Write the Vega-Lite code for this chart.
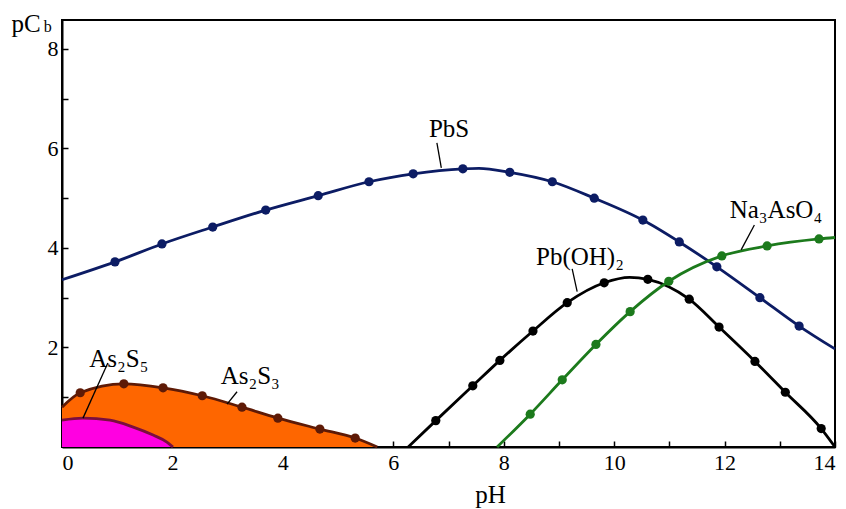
{
  "$schema": "https://vega.github.io/schema/vega-lite/v6.json",
  "width": 773,
  "height": 427,
  "autosize": {"type": "none"},
  "padding": {"left": 62, "top": 20, "right": 11, "bottom": 62},
  "background": "white",
  "config": {
    "font": "'Liberation Serif', 'Times New Roman', serif",
    "view": {"stroke": "black", "strokeWidth": 2},
    "axis": {
      "labelFont": "'Liberation Serif', 'Times New Roman', serif",
      "titleFont": "'Liberation Serif', 'Times New Roman', serif",
      "labelColor": "black",
      "titleColor": "black",
      "domainColor": "black",
      "domainWidth": 2,
      "tickColor": "black",
      "tickWidth": 1.5,
      "grid": false,
      "labelFontSize": 22,
      "titleFontSize": 25,
      "titleFontWeight": "normal"
    }
  },
  "datasets": {
    "curves": [
      {"series": "PbS", "pH": 0, "pC": 3.36},
      {"series": "PbS", "pH": 0.96, "pC": 3.72},
      {"series": "PbS", "pH": 1.81, "pC": 4.08},
      {"series": "PbS", "pH": 2.73, "pC": 4.42},
      {"series": "PbS", "pH": 3.69, "pC": 4.76},
      {"series": "PbS", "pH": 4.64, "pC": 5.05},
      {"series": "PbS", "pH": 5.56, "pC": 5.33},
      {"series": "PbS", "pH": 6.36, "pC": 5.49},
      {"series": "PbS", "pH": 7.26, "pC": 5.59},
      {"series": "PbS", "pH": 7.55, "pC": 5.6},
      {"series": "PbS", "pH": 8.11, "pC": 5.52},
      {"series": "PbS", "pH": 8.88, "pC": 5.33},
      {"series": "PbS", "pH": 9.64, "pC": 5.0},
      {"series": "PbS", "pH": 10.52, "pC": 4.56},
      {"series": "PbS", "pH": 11.18, "pC": 4.12},
      {"series": "PbS", "pH": 11.86, "pC": 3.62},
      {"series": "PbS", "pH": 12.64, "pC": 3.0},
      {"series": "PbS", "pH": 13.35, "pC": 2.43},
      {"series": "PbS", "pH": 14, "pC": 1.97},
      {"series": "Pb(OH)2", "pH": 6.27, "pC": 0},
      {"series": "Pb(OH)2", "pH": 6.77, "pC": 0.53},
      {"series": "Pb(OH)2", "pH": 7.44, "pC": 1.23},
      {"series": "Pb(OH)2", "pH": 7.93, "pC": 1.74},
      {"series": "Pb(OH)2", "pH": 8.53, "pC": 2.33},
      {"series": "Pb(OH)2", "pH": 9.15, "pC": 2.9},
      {"series": "Pb(OH)2", "pH": 9.82, "pC": 3.3},
      {"series": "Pb(OH)2", "pH": 10.28, "pC": 3.41},
      {"series": "Pb(OH)2", "pH": 10.61, "pC": 3.37},
      {"series": "Pb(OH)2", "pH": 11.36, "pC": 2.97},
      {"series": "Pb(OH)2", "pH": 11.9, "pC": 2.41},
      {"series": "Pb(OH)2", "pH": 12.55, "pC": 1.72},
      {"series": "Pb(OH)2", "pH": 13.1, "pC": 1.1},
      {"series": "Pb(OH)2", "pH": 13.75, "pC": 0.37},
      {"series": "Pb(OH)2", "pH": 14, "pC": 0},
      {"series": "Na3AsO4", "pH": 7.88, "pC": 0},
      {"series": "Na3AsO4", "pH": 8.48, "pC": 0.66},
      {"series": "Na3AsO4", "pH": 9.06, "pC": 1.35},
      {"series": "Na3AsO4", "pH": 9.67, "pC": 2.06},
      {"series": "Na3AsO4", "pH": 10.29, "pC": 2.72},
      {"series": "Na3AsO4", "pH": 10.99, "pC": 3.33},
      {"series": "Na3AsO4", "pH": 11.95, "pC": 3.84},
      {"series": "Na3AsO4", "pH": 12.77, "pC": 4.04},
      {"series": "Na3AsO4", "pH": 13.71, "pC": 4.18},
      {"series": "Na3AsO4", "pH": 14, "pC": 4.21},
      {"series": "As2S3", "pH": 0, "pC": 0.8},
      {"series": "As2S3", "pH": 0.33, "pC": 1.09},
      {"series": "As2S3", "pH": 1.12, "pC": 1.27},
      {"series": "As2S3", "pH": 1.83, "pC": 1.19},
      {"series": "As2S3", "pH": 2.54, "pC": 1.03},
      {"series": "As2S3", "pH": 3.26, "pC": 0.8},
      {"series": "As2S3", "pH": 3.91, "pC": 0.58},
      {"series": "As2S3", "pH": 4.67, "pC": 0.36},
      {"series": "As2S3", "pH": 5.31, "pC": 0.18},
      {"series": "As2S3", "pH": 5.71, "pC": 0},
      {"series": "As2S5", "pH": 0, "pC": 0.54},
      {"series": "As2S5", "pH": 0.38, "pC": 0.58},
      {"series": "As2S5", "pH": 0.87, "pC": 0.54},
      {"series": "As2S5", "pH": 1.29, "pC": 0.4},
      {"series": "As2S5", "pH": 1.65, "pC": 0.24},
      {"series": "As2S5", "pH": 1.9, "pC": 0.1},
      {"series": "As2S5", "pH": 2.01, "pC": 0}
    ],
    "dots": [
      {"series": "PbS", "pH": 0.96, "pC": 3.72},
      {"series": "PbS", "pH": 1.81, "pC": 4.08},
      {"series": "PbS", "pH": 2.73, "pC": 4.42},
      {"series": "PbS", "pH": 3.69, "pC": 4.76},
      {"series": "PbS", "pH": 4.64, "pC": 5.05},
      {"series": "PbS", "pH": 5.56, "pC": 5.33},
      {"series": "PbS", "pH": 6.36, "pC": 5.49},
      {"series": "PbS", "pH": 7.26, "pC": 5.59},
      {"series": "PbS", "pH": 8.11, "pC": 5.52},
      {"series": "PbS", "pH": 8.88, "pC": 5.33},
      {"series": "PbS", "pH": 9.64, "pC": 5.0},
      {"series": "PbS", "pH": 10.52, "pC": 4.56},
      {"series": "PbS", "pH": 11.18, "pC": 4.12},
      {"series": "PbS", "pH": 11.86, "pC": 3.62},
      {"series": "PbS", "pH": 12.64, "pC": 3.0},
      {"series": "PbS", "pH": 13.35, "pC": 2.43},
      {"series": "Pb(OH)2", "pH": 6.77, "pC": 0.53},
      {"series": "Pb(OH)2", "pH": 7.44, "pC": 1.23},
      {"series": "Pb(OH)2", "pH": 7.93, "pC": 1.74},
      {"series": "Pb(OH)2", "pH": 8.53, "pC": 2.33},
      {"series": "Pb(OH)2", "pH": 9.15, "pC": 2.9},
      {"series": "Pb(OH)2", "pH": 9.82, "pC": 3.3},
      {"series": "Pb(OH)2", "pH": 10.61, "pC": 3.37},
      {"series": "Pb(OH)2", "pH": 11.36, "pC": 2.97},
      {"series": "Pb(OH)2", "pH": 11.9, "pC": 2.41},
      {"series": "Pb(OH)2", "pH": 12.55, "pC": 1.72},
      {"series": "Pb(OH)2", "pH": 13.1, "pC": 1.1},
      {"series": "Pb(OH)2", "pH": 13.75, "pC": 0.37},
      {"series": "Na3AsO4", "pH": 8.48, "pC": 0.66},
      {"series": "Na3AsO4", "pH": 9.06, "pC": 1.35},
      {"series": "Na3AsO4", "pH": 9.67, "pC": 2.06},
      {"series": "Na3AsO4", "pH": 10.29, "pC": 2.72},
      {"series": "Na3AsO4", "pH": 10.99, "pC": 3.33},
      {"series": "Na3AsO4", "pH": 11.95, "pC": 3.84},
      {"series": "Na3AsO4", "pH": 12.77, "pC": 4.04},
      {"series": "Na3AsO4", "pH": 13.71, "pC": 4.18},
      {"series": "As2S3", "pH": 0.33, "pC": 1.09},
      {"series": "As2S3", "pH": 1.12, "pC": 1.27},
      {"series": "As2S3", "pH": 1.83, "pC": 1.19},
      {"series": "As2S3", "pH": 2.54, "pC": 1.03},
      {"series": "As2S3", "pH": 3.26, "pC": 0.8},
      {"series": "As2S3", "pH": 3.91, "pC": 0.58},
      {"series": "As2S3", "pH": 4.67, "pC": 0.36},
      {"series": "As2S3", "pH": 5.31, "pC": 0.18}
    ],
    "labels": [
      {"label": "PbS", "pH": 7.01, "pC": 6.39},
      {"label": "Pb(OH)₂", "pH": 9.38, "pC": 3.82},
      {"label": "Na₃AsO₄", "pH": 12.93, "pC": 4.76},
      {"label": "As₂S₅", "pH": 1.03, "pC": 1.77},
      {"label": "As₂S₃", "pH": 3.41, "pC": 1.43}
    ],
    "leaders": [
      {"pH": 6.79, "pC": 6.11, "pH2": 6.87, "pC2": 5.61},
      {"pH": 9.24, "pC": 3.58, "pH2": 9.33, "pC2": 3.12},
      {"pH": 12.54, "pC": 4.46, "pH2": 12.3, "pC2": 3.96},
      {"pH": 0.83, "pC": 1.69, "pH2": 0.38, "pC2": 0.58},
      {"pH": 3.17, "pC": 1.11, "pH2": 2.99, "pC2": 0.86}
    ],
    "sub": [
      {"label": "b", "pH": -0.33, "pC": 8.33}
    ]
  },
  "encoding": {
    "x": {
      "field": "pH", "type": "quantitative",
      "scale": {"domain": [0, 14], "nice": false, "zero": false},
      "axis": {
        "title": "pH",
        "values": [0, 1, 2, 3, 4, 5, 6, 7, 8, 9, 10, 11, 12, 13, 14],
        "labelExpr": "datum.value % 2 == 0 ? datum.label : ''",
        "tickSize": -6,
        "labelPadding": 11,
        "titleX": 428,
        "titleY": 55,
        "titleBaseline": "alphabetic",
        "titleAnchor": "middle",
        "titleAlign": "center"
      }
    },
    "y": {
      "field": "pC", "type": "quantitative",
      "scale": {"domain": [0, 8.58], "nice": false, "zero": false},
      "axis": {
        "title": "pC",
        "values": [1, 2, 3, 4, 5, 6, 7, 8],
        "labelExpr": "datum.value % 2 == 0 ? datum.label : ''",
        "tickSize": -6,
        "labelPadding": 10,
        "titleAngle": 0,
        "titleAlign": "left",
        "titleBaseline": "alphabetic",
        "titleX": -51,
        "titleY": 11
      }
    }
  },
  "layer": [
    {
      "data": {"name": "curves"},
      "transform": [{"filter": "datum.series == 'As2S3'"}],
      "mark": {"type": "area", "interpolate": "monotone", "fill": "#fe6600", "opacity": 1}
    },
    {
      "data": {"name": "curves"},
      "transform": [{"filter": "datum.series == 'As2S5'"}],
      "mark": {"type": "area", "interpolate": "monotone", "fill": "#ff00e1", "opacity": 1}
    },
    {
      "data": {"name": "curves"},
      "mark": {"type": "line", "interpolate": "monotone", "strokeWidth": 2.8},
      "encoding": {
        "detail": {"field": "series"},
        "color": {
          "field": "series", "type": "nominal", "legend": null,
          "scale": {
            "domain": ["PbS", "Pb(OH)2", "Na3AsO4", "As2S3", "As2S5"],
            "range": ["#0c1c64", "#000000", "#1c7a1c", "#5e1a06", "#7a0f3e"]
          }
        }
      }
    },
    {
      "data": {"name": "dots"},
      "mark": {"type": "point", "filled": true, "opacity": 1},
      "encoding": {
        "color": {"field": "series", "type": "nominal", "legend": null},
        "size": {
          "field": "series", "type": "nominal", "legend": null,
          "scale": {
            "domain": ["PbS", "Pb(OH)2", "Na3AsO4", "As2S3"],
            "range": [85, 85, 85, 40]
          }
        }
      }
    },
    {
      "data": {"name": "leaders"},
      "mark": {"type": "rule", "color": "black", "strokeWidth": 1.3},
      "encoding": {
        "x2": {"field": "pH2"},
        "y2": {"field": "pC2"}
      }
    },
    {
      "data": {"name": "labels"},
      "mark": {"type": "text", "font": "'Liberation Serif', 'Times New Roman', serif", "fontSize": 25, "color": "black", "align": "center", "baseline": "middle"},
      "encoding": {"text": {"field": "label"}}
    },
    {
      "data": {"name": "sub"},
      "mark": {"type": "text", "font": "'Liberation Serif', 'Times New Roman', serif", "fontSize": 16, "color": "black", "align": "left", "baseline": "alphabetic"},
      "encoding": {"text": {"field": "label"}}
    }
  ]
}
